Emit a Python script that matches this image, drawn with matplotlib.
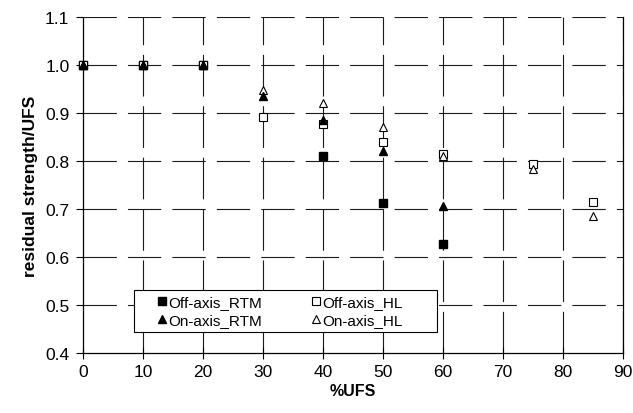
import numpy as np
import matplotlib
matplotlib.use("Agg")
import matplotlib.pyplot as plt
from matplotlib.patches import Rectangle

plt.rcParams['font.family'] = ['Liberation Sans', 'DejaVu Sans']
plt.rcParams['lines.scale_dashes'] = False

# data
x_off_rtm = [0, 10, 20, 40, 50, 60]
y_off_rtm = [1.0, 1.0, 1.0, 0.81, 0.713, 0.627]

x_on_rtm = [0, 10, 20, 30, 40, 50, 60]
y_on_rtm = [1.0, 1.0, 1.0, 0.936, 0.885, 0.821, 0.707]

x_off_hl = [0, 10, 20, 30, 40, 50, 60, 75, 85]
y_off_hl = [1.0, 1.0, 1.0, 0.891, 0.878, 0.84, 0.814, 0.793, 0.714]

x_on_hl = [0, 10, 20, 30, 40, 50, 60, 75, 85]
y_on_hl = [1.0, 1.0, 1.0, 0.947, 0.92, 0.87, 0.81, 0.783, 0.685]

xticks = np.arange(0, 91, 10)
yticks = np.arange(0.4, 1.11, 0.1)

fig = plt.figure(figsize=(6.33, 4.14), dpi=100)
ax = fig.add_axes([0.1316, 0.145, 0.8524, 0.8115])

ax.set_xlim(0, 90)
ax.set_ylim(0.4, 1.1)
ax.set_xticks(xticks)
ax.set_yticks(yticks)
ax.set_yticklabels([f'{v:.1f}' for v in yticks])

# dashed grid
for v in xticks[1:]:
    ax.axvline(v, color='#1a1a1a', lw=0.8, dashes=(30, 7), zorder=1)
for v in yticks[1:]:
    ax.axhline(v, color='#1a1a1a', lw=0.8, dashes=(24, 8), zorder=1)

ms = 6
h_offr, = ax.plot(x_off_rtm, y_off_rtm, 's', ms=ms, color='black',
                  clip_on=False, zorder=3)
h_offh, = ax.plot(x_off_hl, y_off_hl, 's', ms=ms, mfc='white', mec='black',
                  mew=0.8, clip_on=False, zorder=4)
h_onh, = ax.plot(x_on_hl, y_on_hl, '^', ms=ms, mfc='white', mec='black',
                 mew=0.8, clip_on=False, zorder=5)
h_onr, = ax.plot(x_on_rtm, y_on_rtm, '^', ms=ms, color='black',
                 clip_on=False, zorder=6)

# legend box
ax.add_patch(Rectangle((0.094, 0.0625), 0.561, 0.1255, transform=ax.transAxes,
                       facecolor='white', edgecolor='black', lw=0.8, zorder=7))
leg = ax.legend([h_offr, h_onr, h_offh, h_onh],
                ['Off-axis_RTM', 'On-axis_RTM', 'Off-axis_HL', 'On-axis_HL'],
                ncol=2, loc='center left', bbox_to_anchor=(0.125, 0.125),
                frameon=False, fontsize=11, handlelength=0.5, handletextpad=0.15,
                borderpad=0.0, labelspacing=0.25, columnspacing=3.3,
                markerscale=0.9)
leg.set_zorder(8)

ax.spines['top'].set_visible(False)
for s in ['left', 'right', 'bottom']:
    ax.spines[s].set_linewidth(0.9)

ax.tick_params(axis='x', direction='inout', length=8, width=0.8, labelsize=12.5, pad=4)
ax.tick_params(axis='y', direction='out', length=5, width=0.8, labelsize=12.5, pad=5)

ax.set_xlabel('%UFS', fontsize=11.5, fontweight='bold', labelpad=3)
ax.set_ylabel('residual strength/UFS', fontsize=12.5, fontweight='bold', labelpad=5)

fig.savefig('out.png', dpi=100)
